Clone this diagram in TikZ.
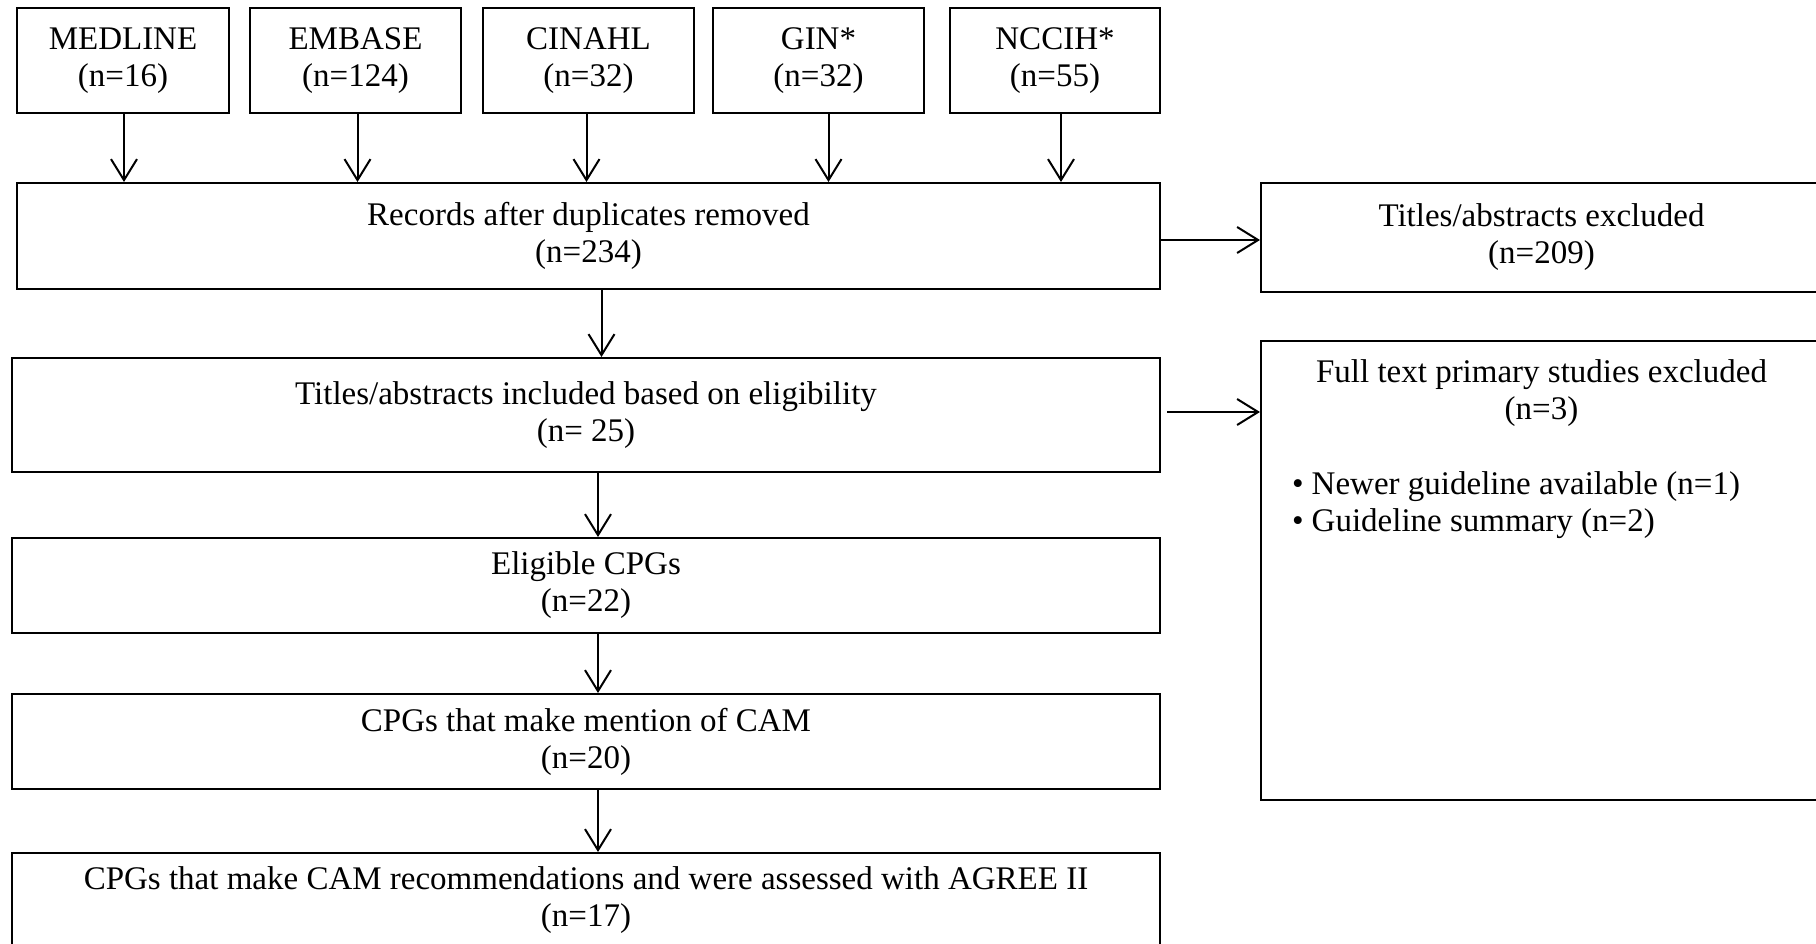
\documentclass[tikz,border=0pt]{standalone}
\usepackage{fontspec}
\setmainfont{Liberation Serif}
\usetikzlibrary{positioning,arrows.meta}

\tikzset{
  box/.style={draw, line width=2pt, align=center, inner sep=0pt, font=\fontsize{33}{37}\selectfont},
  txt/.style={inner sep=0pt, font=\fontsize{33}{37}\selectfont},
  arr/.style={-{Straight Barb[length=21pt,width=26pt,line width=2pt]}, line width=2pt},
}

\begin{document}
\begin{tikzpicture}[x=1pt,y=-1pt]
    \clip (0,0) rectangle (1816,944);
    % Sources
    \node[box, minimum width=212pt, minimum height=105pt] (medline) at (123,60.5) {MEDLINE\\(n=16)};
    \node[box, minimum width=211pt, minimum height=105pt] (embase) at (355.5,60.5) {EMBASE\\(n=124)};
    \node[box, minimum width=211pt, minimum height=105pt] (cinahl) at (588.5,60.5) {CINAHL\\(n=32)};
    \node[box, minimum width=211pt, minimum height=105pt] (gin) at (818.5,60.5) {GIN*\\(n=32)};
    \node[box, minimum width=210pt, minimum height=105pt] (nccih) at (1055,60.5) {NCCIH*\\(n=55)};
    % Main column
    \node[box, minimum width=1143pt, minimum height=106pt] (rec) at (588.5,236) {Records after duplicates removed\\(n=234)};
    \node[box, minimum width=1148pt, minimum height=114pt] (incl) at (586,415) {Titles/abstracts included based on eligibility\\(n= 25)};
    \node[box, minimum width=1148pt, minimum height=95pt] (elig) at (586,585.5) {Eligible CPGs\\(n=22)};
    \node[box, minimum width=1148pt, minimum height=95pt] (ment) at (586,741.5) {CPGs that make mention of CAM\\(n=20)};
    \node[box, minimum width=1148pt, minimum height=94pt] (recom) at (586,900) {CPGs that make CAM recommendations and were assessed with AGREE II\\(n=17)};
    % Exclusions
    \node[box, minimum width=561pt, minimum height=109pt] (excl) at (1541.5,237.5) {Titles/abstracts excluded\\(n=209)};
    \node[box, minimum width=561pt, minimum height=459pt] (full) at (1541.5,570.5) {};
    \node[txt, align=center] (fullhead) at ([yshift=-53pt]full.north) {Full text primary studies excluded\\(n=3)};
    \node[txt, align=left, anchor=west] (fulllist) at ([xshift=32pt,yshift=-165pt]full.north west) {\textbullet\hspace{8pt}Newer guideline available (n=1)\\\textbullet\hspace{8pt}Guideline summary (n=2)};
    % Arrows
    \foreach \src/\dx in {medline/1,embase/2,cinahl/-2,gin/10,nccih/6}
        \draw[arr] ([xshift=\dx pt]\src.south) -- ([xshift=\dx pt]\src.south |- rec.north);
    \draw[arr] ([xshift=13pt]rec.south) -- ([xshift=13pt]rec.south |- incl.north);
    \foreach \a/\b in {incl/elig,elig/ment,ment/recom}
        \draw[arr] ([xshift=12pt]\a.south) -- ([xshift=12pt]\a.south |- \b.north);
    \draw[arr] ([yshift=-4pt]rec.east) -- ([yshift=-4pt]excl.west |- rec.east);
    \draw[arr, shorten <=6pt] ([yshift=3pt]incl.east) -- ([yshift=3pt]incl.east -| full.west);
\end{tikzpicture}
\end{document}
